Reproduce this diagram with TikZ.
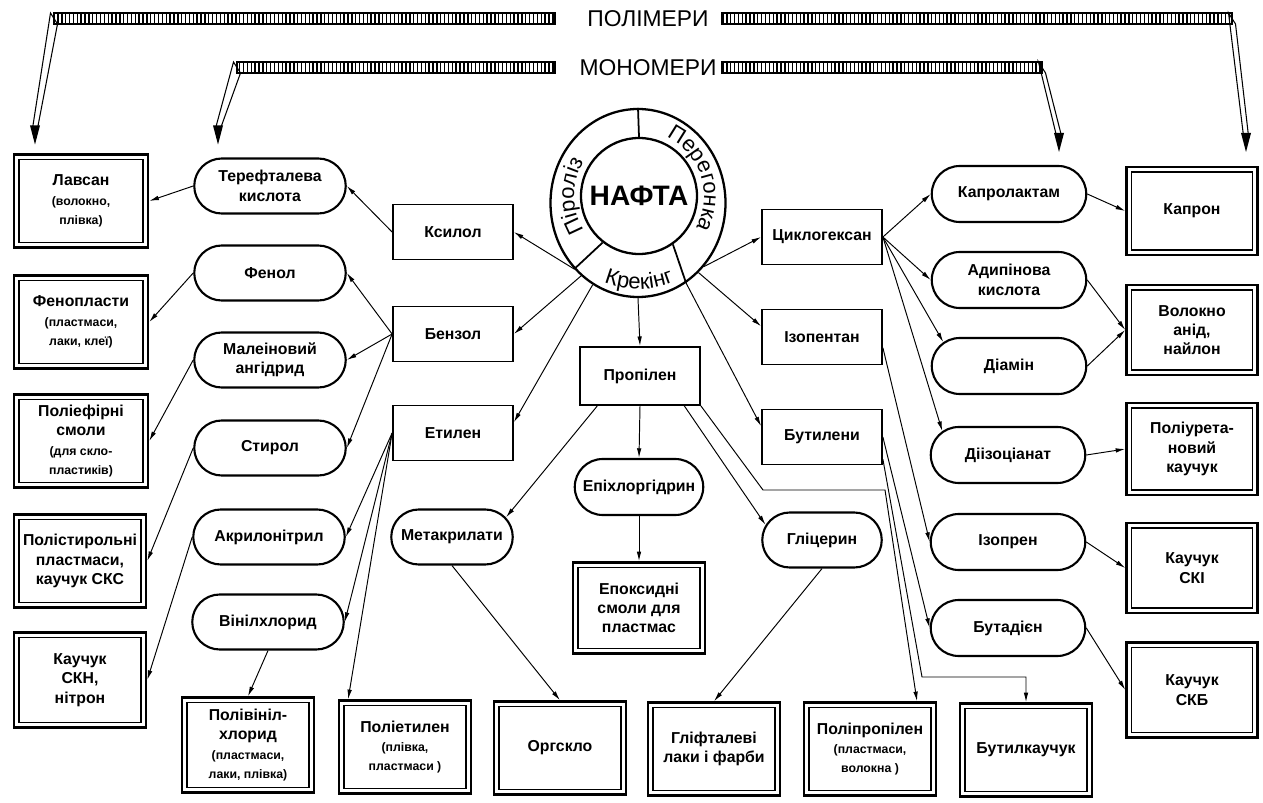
\documentclass[tikz,border=0pt]{standalone}
\usepackage{fontspec}
\setmainfont{Liberation Sans}
\usetikzlibrary{shapes.geometric,shapes.misc,arrows.meta,patterns.meta,decorations.text,calc}

\newcommand{\smallnote}{\fontsize{7}{8.5}\selectfont}
\newcommand{\ringfont}{\fontsize{12.5}{15}\selectfont}

\tikzset{
  mono/.style={rounded rectangle, draw, line width=1.2pt, minimum width=3.1cm,
    minimum height=1.1cm, inner sep=1pt, align=center,
    font=\bfseries\fontsize{9}{11}\selectfont},
  inter/.style={rectangle, draw, line width=1pt, minimum width=2.4cm,
    minimum height=1.1cm, align=center, font=\bfseries\fontsize{9}{11}\selectfont},
  poly/.style={rectangle, draw, line width=1.4pt, minimum width=2.64cm,
    minimum height=1.86cm, inner sep=1pt, align=center,
    font=\bfseries\fontsize{9}{11}\selectfont,
    path picture={\draw[line width=0.6pt]
      ([shift={(0.1,0.1)}]path picture bounding box.south west) rectangle
      ([shift={(-0.1,-0.1)}]path picture bounding box.north east);}},
  link/.style={line width=0.55pt, -{Latex[length=5.5pt,width=2.6pt]}},
  band/.style={draw, line width=0.6pt,
    pattern={Lines[angle=90,distance=2.2pt,line width=0.8pt]}}
}

\begin{document}
\begin{tikzpicture}
  \path[use as bounding box, fill=white] (0,0) rectangle (25.26,16.04);

  % Headings with the hatched bands
  \node[font=\fontsize{13}{15}\selectfont] (polymers) at (12.96,15.66) {ПОЛІМЕРИ};
  \node[font=\fontsize{13}{15}\selectfont] (monomers) at (12.96,14.69) {МОНОМЕРИ};
  \foreach \bx/\by/\tx/\ty in {1.08/15.67/0.70/13.15, 4.74/14.69/4.36/13.15,
      20.84/14.69/21.18/13.0, 24.64/15.67/24.92/13.0} {
    \draw[line width=0.6pt, fill=white] (\bx-0.07,\by+0.11) -- (\tx-0.05,\ty+0.32)
      -- (\tx+0.05,\ty+0.32) -- (\bx+0.07,\by-0.11) -- cycle;
    \fill (\tx-0.1,\ty+0.38) -- (\tx,\ty) -- (\tx+0.1,\ty+0.38) -- cycle;
  }
  \draw[band] (1.08,15.56) rectangle (11.10,15.78);
  \draw[band] (14.44,15.56) rectangle (24.64,15.78);
  \draw[band] (4.74,14.58) rectangle (11.10,14.80);
  \draw[band] (14.44,14.58) rectangle (20.84,14.80);

  % Naphtha with its ring
  \node[ellipse, draw, line width=1.3pt, minimum width=3.5cm, minimum height=3.76cm,
    inner sep=0pt] (ring) at (12.76,11.98) {};
  \node[circle, draw, line width=1.3pt, minimum size=2.32cm, inner sep=0pt,
    font=\bfseries\fontsize{16}{19}\selectfont] (nafta) at (12.78,12.12) {НАФТА};
  \draw[line width=1pt] (nafta.90) -- (ring.90);
  \draw[line width=1pt] (nafta.232) -- (ring.226);
  \draw[line width=1pt] (nafta.305) -- (ring.301);
  \path[decorate, decoration={text along path, text align=center,
    text={|\ringfont|Піроліз}}]
    ($(nafta.center)+(220:1.3)$) arc[start angle=220, end angle=140, radius=1.3];
  \path[decorate, decoration={text along path, text align=center,
    text={|\ringfont|Перегонка}}]
    ($(nafta.center)+(72:1.3)$) arc[start angle=72, end angle=-36, radius=1.3];
  \path[decorate, decoration={text along path, text align=center,
    text={|\ringfont|Крекінг}}]
    ($(nafta.center)+(240:1.86)$) arc[start angle=240, end angle=300, radius=1.86];

  % Intermediates
  \node[inter] (ksylol) at (9.06,11.40) {Ксилол};
  \node[inter] (benzol) at (9.06,9.36) {Бензол};
  \node[inter] (etylen) at (9.06,7.38) {Етилен};
  \node[inter, minimum height=1.16cm] (propylen) at (12.80,8.52) {Пропілен};
  \node[inter] (cyclo) at (16.44,11.30) {Циклогексан};
  \node[inter] (izopentan) at (16.44,9.30) {Ізопентан};
  \node[inter] (butyleny) at (16.44,7.30) {Бутилени};

  % Monomers, left column
  \node[mono] (tereft) at (5.40,12.32) {Терефталева\\кислота};
  \node[mono] (fenol) at (5.40,10.58) {Фенол};
  \node[mono] (malein) at (5.40,8.84) {Малеіновий\\ангідрид};
  \node[mono] (styrol) at (5.40,7.08) {Стирол};
  \node[mono] (akrylo) at (5.38,5.30) {Акрилонітрил};
  \node[mono] (vinil) at (5.36,3.60) {Вінілхлорид};

  % Monomers, middle
  \node[mono, minimum width=2.5cm] (metakryl) at (9.04,5.30) {Метакрилати};
  \node[mono, minimum width=2.64cm, minimum height=1.12cm] (epichlor) at (12.78,6.30) {Епіхлоргідрин};
  \node[mono, minimum width=2.46cm] (glycerin) at (16.44,5.24) {Гліцерин};

  % Monomers, right column
  \node[mono, minimum width=3.16cm, minimum height=1.12cm] (kaprolakt) at (20.18,12.16) {Капролактам};
  \node[mono, minimum width=3.16cm, minimum height=1.12cm] (adypin) at (20.18,10.44) {Адипінова\\кислота};
  \node[mono, minimum width=3.16cm, minimum height=1.12cm] (diamin) at (20.18,8.72) {Діамін};
  \node[mono, minimum width=3.16cm, minimum height=1.12cm] (diizo) at (20.16,6.94) {Діізоціанат};
  \node[mono, minimum width=3.16cm, minimum height=1.12cm] (izopren) at (20.16,5.20) {Ізопрен};
  \node[mono, minimum width=3.16cm, minimum height=1.12cm] (butadien) at (20.16,3.48) {Бутадієн};

  % Polymers, left column
  \node[poly, minimum width=2.68cm] (lavsan) at (1.62,12.02)
    {Лавсан\\\smallnote(волокно,\\\smallnote плівка)};
  \node[poly, minimum width=2.68cm] (fenoplast) at (1.62,9.60)
    {Фенопласти\\\smallnote(пластмаси,\\\smallnote лаки, клеї)};
  \node[poly, minimum width=2.68cm] (poliefir) at (1.62,7.22)
    {Поліефірні\\смоли\\\smallnote(для скло-\\\smallnote пластиків)};
  \node[poly] (polistyr) at (1.60,4.82) {Полістирольні\\пластмаси,\\каучук СКС};
  \node[poly, minimum height=1.9cm] (skn) at (1.60,2.44) {Каучук\\СКН,\\нітрон};

  % Polymers, bottom row
  \node[poly, minimum height=1.9cm] (pvc) at (4.96,1.14)
    {Полівініл-\\хлорид\\\smallnote(пластмаси,\\\smallnote лаки, плівка)};
  \node[poly] (polyeth) at (8.10,1.10) {Поліетилен\\\smallnote(плівка,\\\smallnote пластмаси )};
  \node[poly] (orgsklo) at (11.20,1.08) {Оргскло};
  \node[poly] (glift) at (14.28,1.06) {Гліфталеві\\лаки і фарби};
  \node[poly] (polyprop) at (17.40,1.06) {Поліпропілен\\\smallnote(пластмаси,\\\smallnote волокна )};
  \node[poly] (butylk) at (20.52,1.04) {Бутилкаучук};
  \node[poly, minimum height=1.82cm] (epoxy) at (12.78,3.88) {Епоксидні\\смоли для\\пластмас};

  % Polymers, right column
  \node[poly, minimum width=2.62cm, minimum height=1.76cm] (kapron) at (23.84,11.82) {Капрон};
  \node[poly, minimum width=2.62cm, minimum height=1.8cm] (nylon) at (23.84,9.44) {Волокно\\анід,\\найлон};
  \node[poly, minimum width=2.62cm, minimum height=1.84cm] (poliuret) at (23.84,7.06) {Поліурета-\\новий\\каучук};
  \node[poly, minimum width=2.62cm, minimum height=1.8cm] (ski) at (23.84,4.68) {Каучук\\СКІ};
  \node[poly, minimum width=2.62cm, minimum height=1.9cm] (skb) at (23.84,2.24) {Каучук\\СКБ};

  % Bends of the long lines
  \coordinate (ppbend1) at (15.26,6.24);
  \coordinate (ppbend2) at (17.70,6.24);
  \coordinate (bkbend1) at (18.44,2.50);
  \coordinate (bkbend2) at (20.52,2.50);

  % From the ring
  \draw[link] (ring.226) -- (ksylol.east);
  \draw[link] (ring.232) -- (benzol.east);
  \draw[link] (ring.241) -- (etylen.10);
  \draw[link] (ring.south) -- (propylen.north);
  \draw[link] (ring.316) -- (cyclo.west);
  \draw[link] (ring.311) -- (izopentan.170);
  \draw[link] (ring.301) -- (butyleny.170);

  % Left branch
  \draw[link] (ksylol.west) -- (tereft.east);
  \draw[link] (tereft.west) -- (lavsan.east);
  \draw[link] (benzol.west) -- (fenol.east);
  \draw[link] (benzol.west) -- (malein.east);
  \draw[link] (benzol.west) -- (styrol.east);
  \draw[link] (fenol.west) -- (fenoplast.east);
  \draw[link] (malein.west) -- (poliefir.east);
  \draw[link] (styrol.west) -- (polistyr.east);
  \draw[link] (etylen.west) -- (akrylo.east);
  \draw[link] (etylen.west) -- (vinil.east);
  \draw[link] (etylen.west) -- (polyeth.140);
  \draw[link] (akrylo.west) -- (skn.east);
  \draw[link] (vinil.south) -- (pvc.north);

  % Middle branch
  \draw[link] (propylen.south) -- (epichlor.north);
  \draw[link] (epichlor.south) -- (epoxy.north);
  \draw[link] (propylen.215) -- (metakryl.20);
  \draw[link] (propylen.326) -- (glycerin.165);
  \draw[link] (metakryl.south) -- (orgsklo.north);
  \draw[link] (glycerin.south) -- (glift.north);
  \draw[link] (propylen.south east) -- (ppbend1) -- (ppbend2) -- ([xshift=0.94cm]polyprop.north);

  % Right branch
  \draw[link] (cyclo.east) -- (kaprolakt.west);
  \draw[link] (cyclo.east) -- (adypin.west);
  \draw[link] (cyclo.east) -- (diamin.160);
  \draw[link] (cyclo.east) -- (diizo.160);
  \draw[link] (izopentan.-10) -- (izopren.west);
  \draw[link] (butyleny.east) -- (butadien.west);
  \draw[link] (butyleny.-20) -- (bkbend1) -- (bkbend2) -- (butylk.north);
  \draw[link] (kaprolakt.east) -- (kapron.west);
  \draw[link] (adypin.east) -- (nylon.west);
  \draw[link] (diamin.east) -- (nylon.west);
  \draw[link] (diizo.east) -- (poliuret.west);
  \draw[link] (izopren.east) -- (ski.west);
  \draw[link] (butadien.east) -- (skb.west);
\end{tikzpicture}
\end{document}
